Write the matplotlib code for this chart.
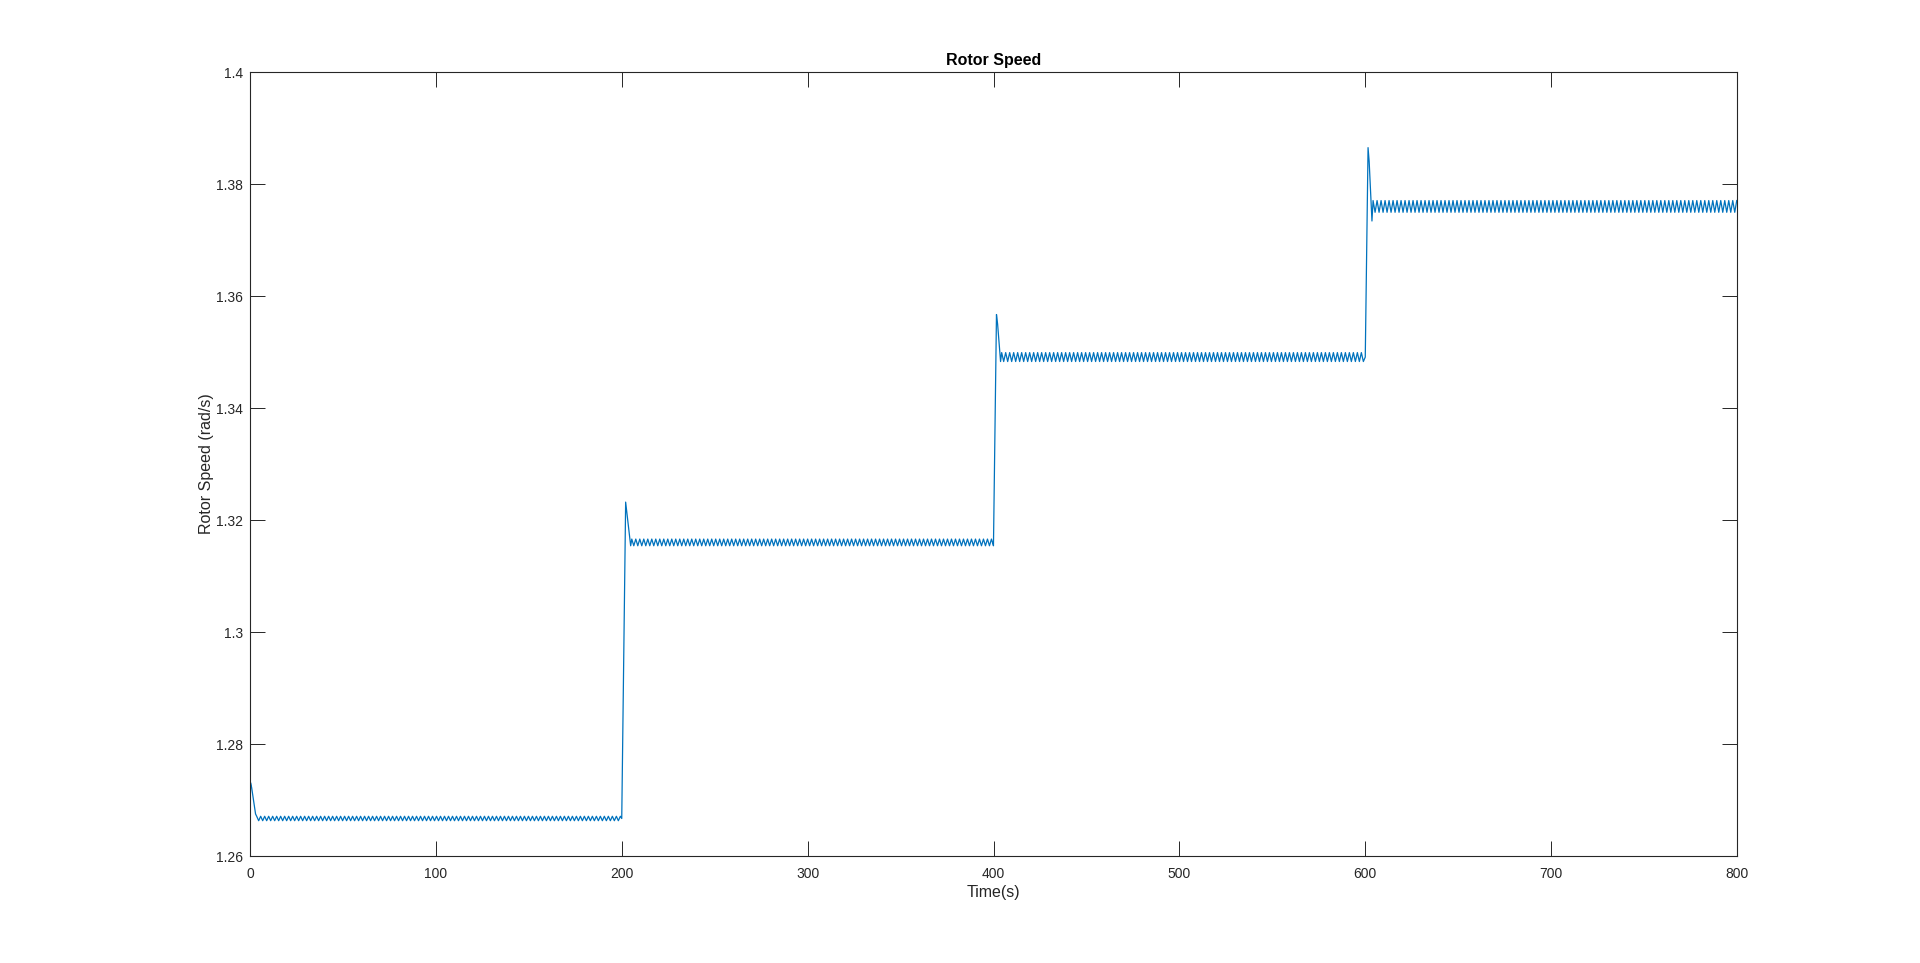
import numpy as np
import matplotlib
matplotlib.use("Agg")
import matplotlib.pyplot as plt

# step changes
step_times = [0, 200, 400, 600]
start_value = 1.2670
levels = [1.2667, 1.3160, 1.3491, 1.3760]       # mean of steady ripple band
peak_values = [1.2731, 1.3232, 1.3567, 1.3865]  # overshoot after each step
peak_delay = [0.3, 2.1, 1.6, 1.5]
shoulder_values = [1.2722, 1.3215, 1.3550, 1.3840]  # just past the peak
dip_values = [1.2675, 1.3154, 1.3483, 1.3734]   # first undershoot
dip_delay = [3.0, 4.8, 3.8, 3.6]
ripple_pp = [0.0008, 0.0012, 0.0016, 0.0021]    # peak-to-peak ripple
ripple_period = 2.15
t_end = 800

xticks = [0, 100, 200, 300, 400, 500, 600, 700, 800]
yticks = [1.26, 1.28, 1.30, 1.32, 1.34, 1.36, 1.38, 1.40]
ytick_labels = ["1.26", "1.28", "1.3", "1.32", "1.34", "1.36", "1.38", "1.4"]

# build the trace from the read values
t_pts = []
y_pts = []
prev = start_value
for k, t0 in enumerate(step_times):
    t_next = step_times[k + 1] if k + 1 < len(step_times) else t_end
    t_pts += [t0, t0 + peak_delay[k], t0 + peak_delay[k] + 0.6, t0 + dip_delay[k]]
    y_pts += [prev, peak_values[k], shoulder_values[k], dip_values[k]]
    tt = t0 + dip_delay[k] + 0.6
    sign = 1
    while tt < t_next:
        t_pts.append(tt)
        y_pts.append(levels[k] + sign * ripple_pp[k] / 2)
        sign = -sign
        tt += ripple_period / 2
    prev = levels[k]

plt.rcParams['font.family'] = ['Liberation Sans', 'DejaVu Sans']
fig = plt.figure(figsize=(19.2, 9.63), dpi=100)
ax = fig.add_axes([0.1302, 0.1111, 0.7745, 0.8141])
ax.plot(t_pts, y_pts, color='#0072BD', linewidth=0.9)

ax.set_xlim(0, 800)
ax.set_ylim(1.26, 1.40)
ax.set_xticks(xticks)
ax.set_yticks(yticks)
ax.set_yticklabels(ytick_labels)
ax.tick_params(direction='in', length=10.5, width=0.7, colors='#262626',
               labelsize=10, top=True, right=True)
ax.tick_params(axis='x', pad=8)
ax.tick_params(axis='y', pad=5)
for s in ax.spines.values():
    s.set_color('#262626')
    s.set_linewidth(0.8)

ax.set_title('Rotor Speed', fontsize=11.5, fontweight='bold', color='black', pad=5)
ax.set_xlabel('Time(s)', fontsize=11.5, color='#262626', labelpad=3)
ax.set_ylabel('Rotor Speed (rad/s)', fontsize=11.5, color='#262626')
ax.yaxis.set_label_coords(-0.0245, 0.5)

fig.savefig('out.png', dpi=100)
